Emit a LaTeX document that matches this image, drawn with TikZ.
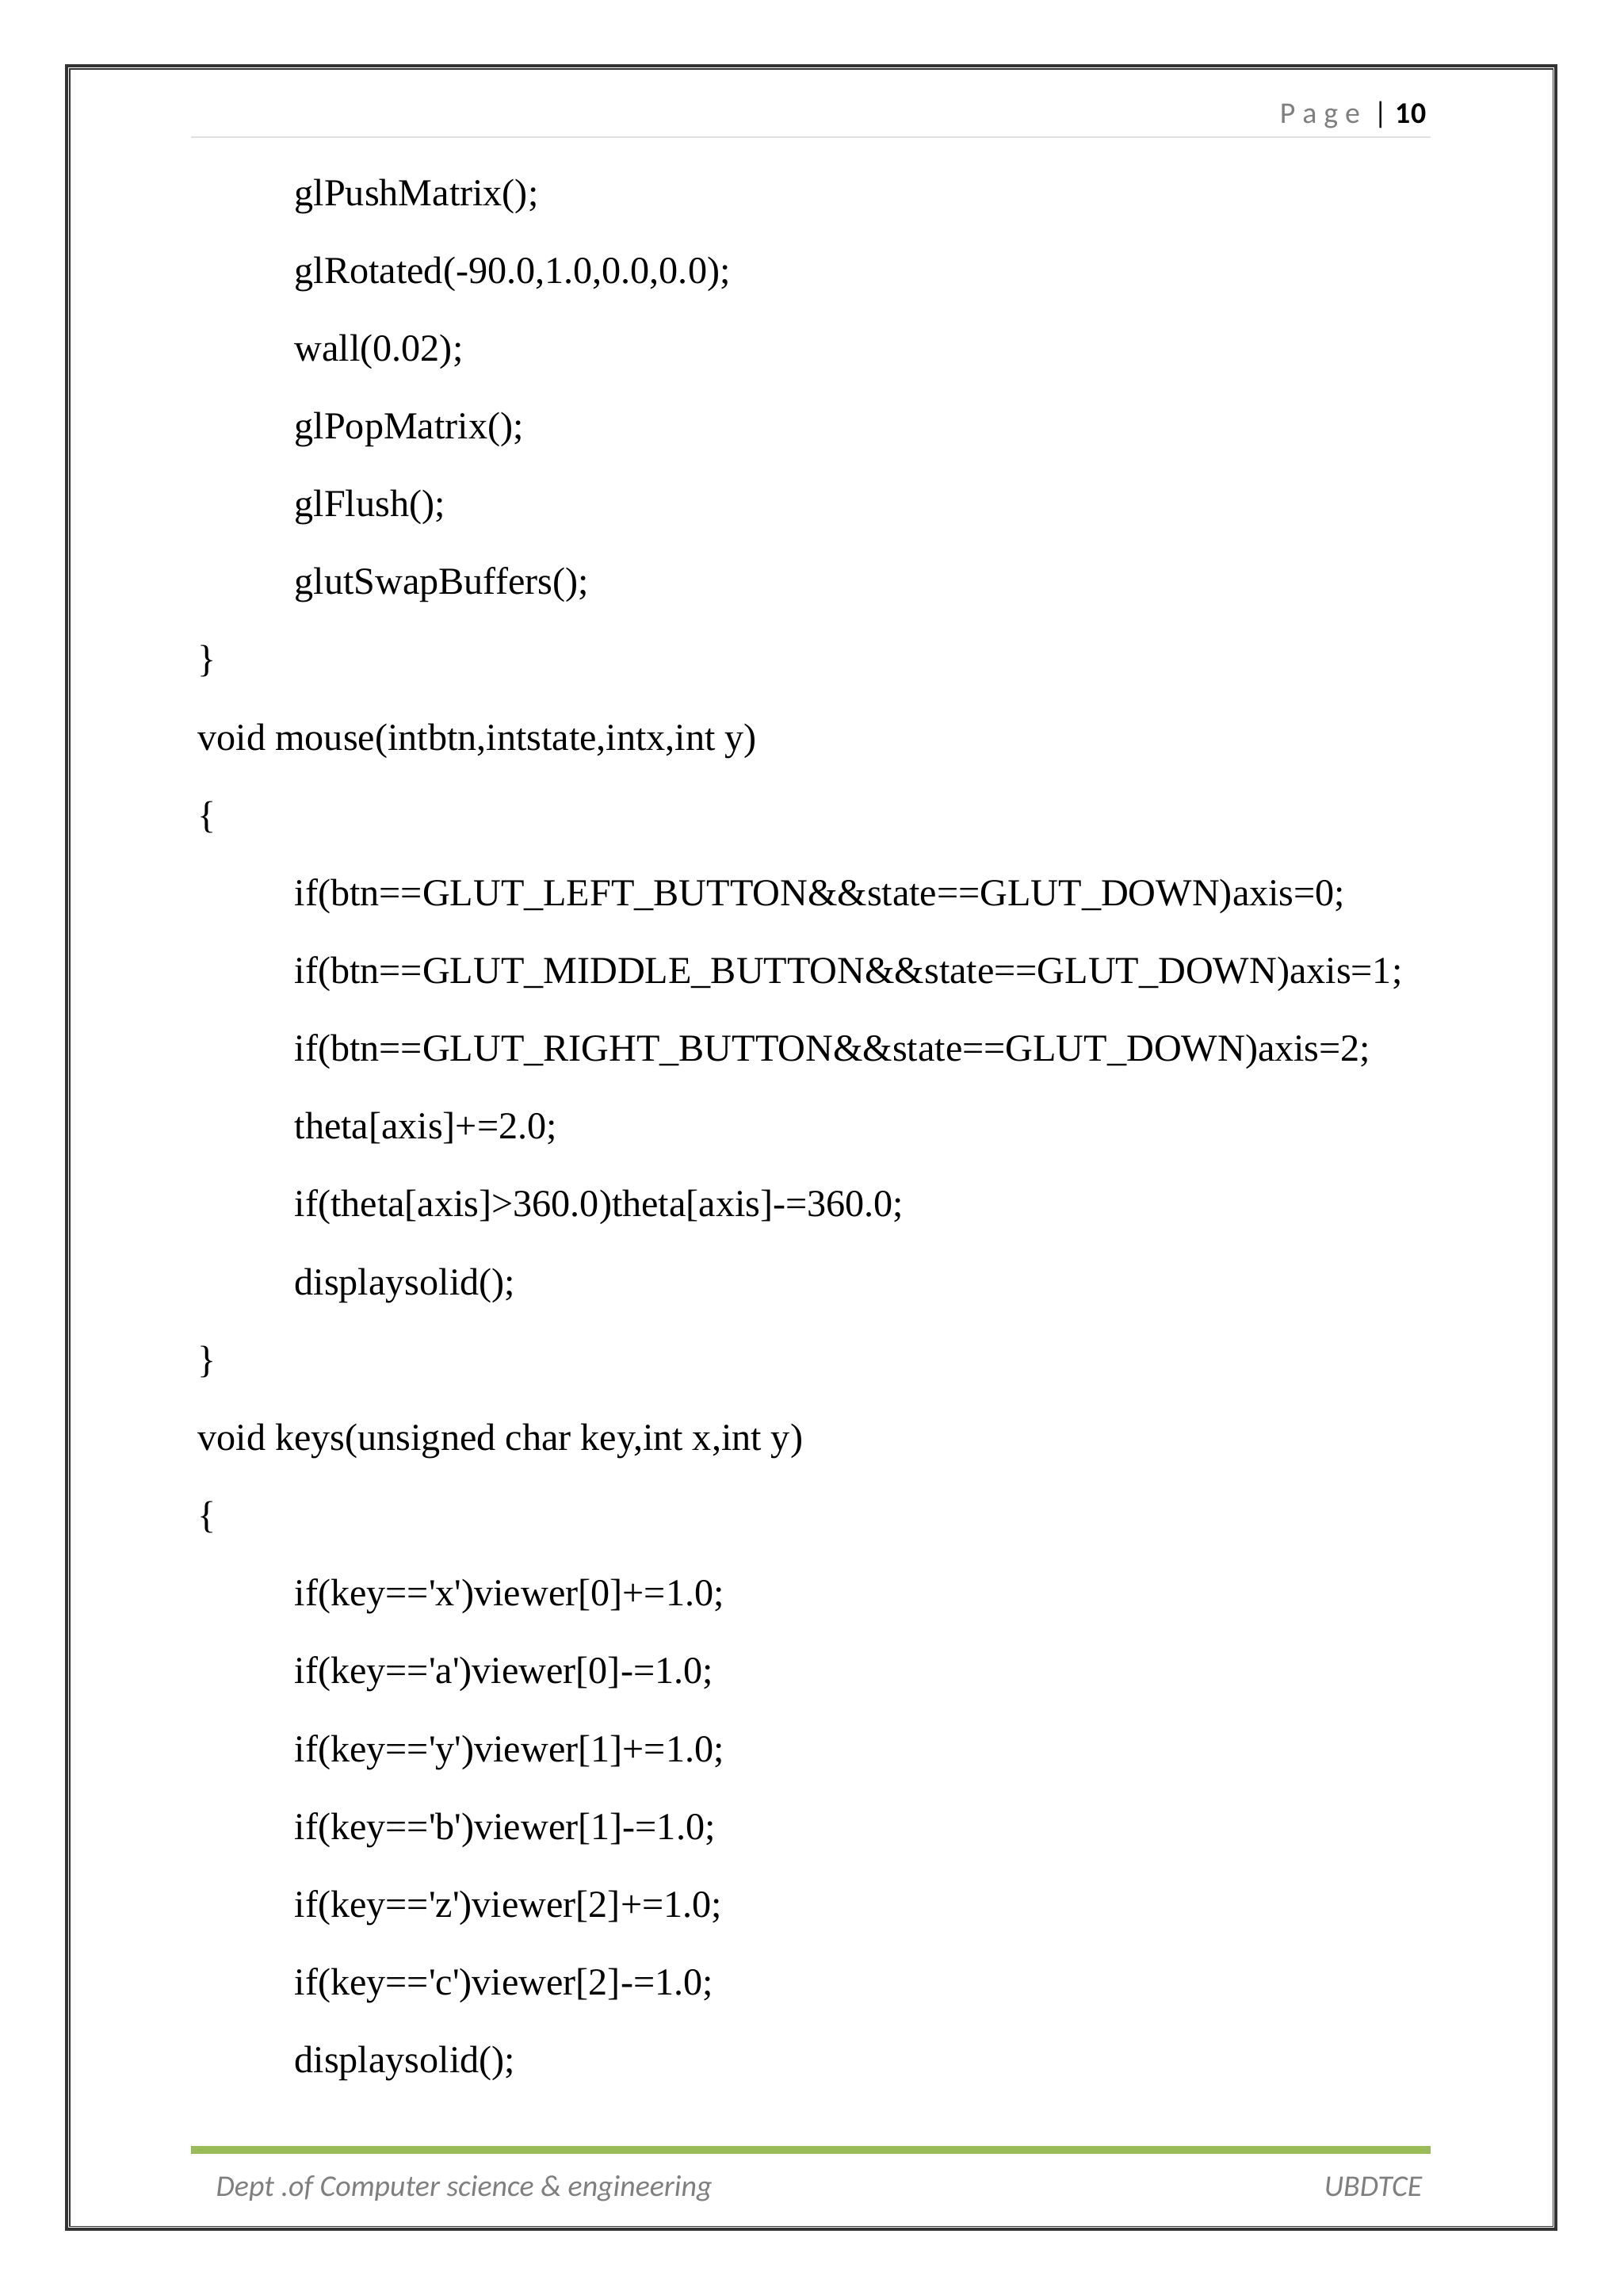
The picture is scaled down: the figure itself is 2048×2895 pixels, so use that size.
\documentclass[tikz,border=0pt]{standalone}
\usepackage{fontspec}
\newfontfamily\codefont{Liberation Serif}
\newfontfamily\hdrfont{Carlito}
\definecolor{hdrgray}{RGB}{127,127,127}
\definecolor{grn}{RGB}{155,187,89}
\begin{document}
\begin{tikzpicture}[x=0.29066pt,y=-0.29066pt,
  code/.style={anchor=base west,inner sep=0pt,font=\codefont\fontsize{14}{16}\selectfont},
  hdr/.style={inner sep=0pt,font=\hdrfont\fontsize{11}{13}\selectfont,text=hdrgray}]
\useasboundingbox (0,0) rectangle (2048,2895);
\fill[white] (0,0) rectangle (2048,2895);
% border
\draw[line width=1.1pt,black!80] (84,83) rectangle (1963,2812);
\draw[line width=0.3pt,black!80] (88,87) rectangle (1959,2808);
% header
\node[hdr,anchor=base east] (pg) at (1800,155) {P\hspace{2.6pt}a\hspace{2.6pt}g\hspace{2.6pt}e\hspace{5pt}\textcolor{black}{|\hspace{3pt}\textbf{10}}};
\draw[line width=0.6pt,black!12] (241,173) -- (1805,173);
% footer
\fill[grn] (241,2707) rectangle (1805,2717);
\node[hdr,anchor=base west] (fl) at (272,2770) {\itshape Dept .of Computer science \& engineering};
\node[hdr,anchor=base east] (fr) at (1795,2770) {\itshape UBDTCE};
% code
\def\I{371}\def\O{249}
\foreach \n/\xx/\t in {0/\I/{glPushMatrix();},
 1/\I/{glRotated(-90.0,1.0,0.0,0.0);},
 2/\I/{wall(0.02);},
 3/\I/{glPopMatrix();},
 4/\I/{glFlush();},
 5/\I/{glutSwapBuffers();},
 6/\O/{\}},
 7/\O/{void mouse(intbtn,intstate,intx,int y)},
 8/\O/{\{},
 9/\I/{if(btn==GLUT\_LEFT\_BUTTON\&\&state==GLUT\_DOWN)axis=0;},
 10/\I/{if(btn==GLUT\_MIDDLE\_BUTTON\&\&state==GLUT\_DOWN)axis=1;},
 11/\I/{if(btn==GLUT\_RIGHT\_BUTTON\&\&state==GLUT\_DOWN)axis=2;},
 12/\I/{theta[axis]+=2.0;},
 13/\I/{if(theta[axis]>360.0)theta[axis]-=360.0;},
 14/\I/{displaysolid();},
 15/\O/{\}},
 16/\O/{void keys(unsigned char key,int x,int y)},
 17/\O/{\{},
 18/\I/{if(key=='x')viewer[0]+=1.0;},
 19/\I/{if(key=='a')viewer[0]-=1.0;},
 20/\I/{if(key=='y')viewer[1]+=1.0;},
 21/\I/{if(key=='b')viewer[1]-=1.0;},
 22/\I/{if(key=='z')viewer[2]+=1.0;},
 23/\I/{if(key=='c')viewer[2]-=1.0;},
 24/\I/{displaysolid();}}
 {\node[code] (l\n) at (\xx,{259+98.15*\n}) {\t};}
\end{tikzpicture}
\end{document}
